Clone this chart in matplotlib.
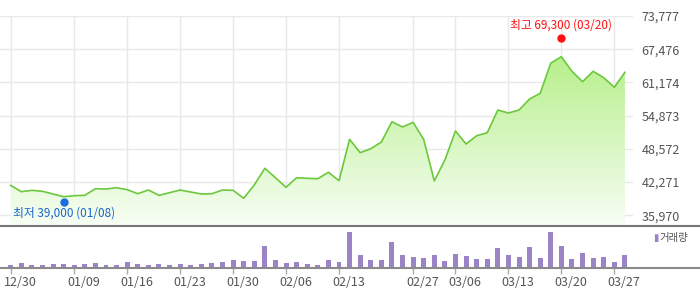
import numpy as np
import matplotlib
matplotlib.use('Agg')
import matplotlib.pyplot as plt
from matplotlib.transforms import offset_copy, ScaledTranslation
from matplotlib.colors import LinearSegmentedColormap

plt.rcParams['font.family'] = ['Noto Sans CJK KR', 'DejaVu Sans']

# closing prices per trading day (index 0 = 12/30)
price = [41650, 40450, 40710, 40520, 40010, 39500, 39690, 39760, 41020, 40960,
         41210, 40830, 40070, 40770, 39760, 40260, 40770, 40390, 40010, 40070,
         40770, 40710, 39200, 41720, 44890, 43100, 41280, 43100, 42990, 42910,
         44130, 42530, 50390, 47850, 48600, 49870, 53730, 52720, 53610, 50350,
         42480, 46460, 51960, 49500, 51070, 51640, 55940, 55380, 55940, 58030,
         59110, 64860, 66050, 63290, 61310, 63290, 62070, 60250, 63100]

volume = [3, 5, 3, 3, 4, 4, 3, 4, 5, 3,
          3, 6, 4, 3, 4, 3, 4, 3, 4, 5,
          6, 8, 7, 7, 22, 8, 5, 6, 4, 3,
          8, 6, 36, 13, 8, 8, 26, 13, 11, 10,
          13, 7, 14, 12, 9, 9, 20, 13, 11, 21,
          10, 36, 22, 9, 15, 10, 11, 6, 13]

tick_idx = [0, 6, 11, 16, 21, 26, 31, 38, 42, 47, 52, 57]
tick_lab = ['12/30', '01/09', '01/16', '01/23', '01/30', '02/06', '02/13',
            '02/27', '03/06', '03/13', '03/20', '03/27']

y_ticks = [35970, 42271, 48572, 54873, 61174, 67476, 73777]

hi_idx, hi_val, hi_txt = 52, 69300, '최고 69,300 (03/20)'
lo_idx, lo_val, lo_txt = 5, 39000, '최저 39,000 (01/08)'

x = np.arange(len(price))
W, H = 700, 289
fig = plt.figure(figsize=(7, 2.89), dpi=100)

px_step = 10.59
x0 = -10.7 / px_step
x1_price = x0 + 633 / px_step
x1_vol = x0 + 700 / px_step

ax = fig.add_axes([0, 1 - 225.7 / H, 633 / W, (225.7 - 16) / H])
axv = fig.add_axes([0, 1 - 268 / H, 1, (268 - 225.7) / H])

ylo, yhi = 34000, 73777
ax.set_xlim(x0, x1_price)
ax.set_ylim(ylo, yhi)

# gradient fill under the line
top = max(price)
cmap = LinearSegmentedColormap.from_list('g', [(0.97, 0.995, 0.96), (0.72, 0.94, 0.55)])
grad = np.linspace(0, 1, 256).reshape(-1, 1)
im = ax.imshow(grad, extent=[x[0], x[-1], ylo, top], origin='lower', aspect='auto',
               cmap=cmap, zorder=1, interpolation='bilinear')
poly = ax.fill_between(x, price, ylo, color='none', zorder=1)
im.set_clip_path(poly.get_paths()[0], transform=ax.transData)
ax.plot(x, price, color='#6cc83c', lw=1.2, zorder=3)

for t in y_ticks:
    ax.axhline(t, color='#e9e9e9', lw=1, zorder=0)
for i in tick_idx:
    ax.axvline(i, color='#e9e9e9', lw=1, zorder=0)

for s in ax.spines.values():
    s.set_visible(False)
ax.set_xticks([])
ax.yaxis.tick_right()
ax.set_yticks(y_ticks)
ax.set_yticklabels([f'{v:,}' for v in y_ticks])
ax.tick_params(axis='y', length=0, pad=6, labelsize=9, labelcolor='#555555')

# high / low markers
tr_up = offset_copy(ax.transData, fig=fig, x=0, y=2, units='dots')
tr_dn = offset_copy(ax.transData, fig=fig, x=0, y=-3, units='dots')
ax.plot([hi_idx], [hi_val], 'o', color='#ff1111', ms=5, transform=tr_up, zorder=4)
ax.plot([lo_idx], [lo_val], 'o', color='#1a6ee0', ms=5, transform=tr_dn, zorder=4)
ax.annotate(hi_txt, (hi_idx, hi_val), xytext=(0, 15), textcoords='offset pixels',
            ha='center', va='center', color='#ff1111', fontsize=8.5)
ax.annotate(lo_txt, (lo_idx, lo_val), xytext=(0, -14), textcoords='offset pixels',
            ha='center', va='center', color='#1a66cc', fontsize=8.5)

# volume panel
axv.set_xlim(x0, x1_vol)
axv.set_ylim(0, 42.3)
axv.bar(x, volume, width=0.47, color='#9b84c6', zorder=2)
for k in ['left', 'right']:
    axv.spines[k].set_visible(False)
axv.spines['top'].set_color('#777777')
axv.spines['top'].set_linewidth(1.5)
axv.spines['bottom'].set_color('#8a8a8a')
axv.spines['bottom'].set_linewidth(1.5)
axv.set_yticks([])
axv.set_xticks(tick_idx)
axv.set_xticklabels(tick_lab)
axv.tick_params(axis='x', length=4, width=1, color='#aaaaaa', pad=1.5,
                labelsize=9, labelcolor='#555555')
shift = ScaledTranslation(-7 / 100, 0, fig.dpi_scale_trans)
for lab in axv.get_xticklabels():
    lab.set_horizontalalignment('left')
    lab.set_transform(lab.get_transform() + shift)

axv.text(653 / W, 1 - (237.7 - 225.7) / (268 - 225.7), '▮', transform=axv.transAxes,
         color='#9b84c6', fontsize=7, ha='left', va='center', family=['DejaVu Sans'])
axv.text(659 / W, 1 - (237.7 - 225.7) / (268 - 225.7), '거래량', transform=axv.transAxes,
         color='#555555', fontsize=7.5, ha='left', va='center')

fig.savefig('out.png', dpi=100)
